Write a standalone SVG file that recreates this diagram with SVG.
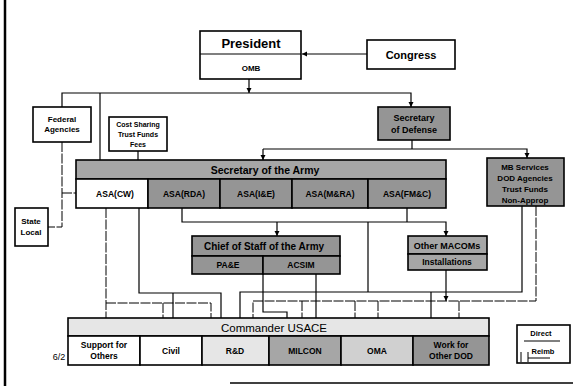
<svg xmlns="http://www.w3.org/2000/svg" width="573" height="386" viewBox="0 0 573 386">
<style>
text{font-family:"Liberation Sans",Arial,sans-serif;font-weight:bold;fill:#000;text-anchor:middle}
.box{stroke:#000;stroke-width:1.6}
.w{fill:#fff}
.g1{fill:#a6a6a6}
.g2{fill:#959595}
.g3{fill:#d0d0d0}
.g4{fill:#e6e6e6}
.c{fill:none;stroke:#000;stroke-width:1.2}
.r{fill:none;stroke:#000;stroke-width:1;stroke-dasharray:10 1.5}
</style>
<defs>
<marker id="ah" markerWidth="6" markerHeight="6" refX="5" refY="3" orient="auto" markerUnits="userSpaceOnUse">
<path d="M0,0.5 L5,3 L0,5.5 Z" fill="#000"/>
</marker>
</defs>
<rect width="573" height="386" fill="#fff"/>
<line x1="5" y1="0" x2="5" y2="386" stroke="#000" stroke-width="2.5"/>
<line x1="230" y1="383" x2="573" y2="383" stroke="#000" stroke-width="1.5"/>

<g id="connectors">
<path class="c" d="M367,54 H302" marker-end="url(#ah)"/>
<path class="c" d="M249,79 V93" marker-end="url(#ah)"/>
<path class="c" d="M62,107 V93 H411 V107" marker-end="url(#ah)"/>
<path class="c" d="M100,93 V179" marker-end="url(#ah)"/>
<path class="c" d="M138,151 V179"/>
<path class="c" d="M412,140 V149"/>
<path class="c" d="M263,149 H527 V158" marker-end="url(#ah)"/>
<path class="c" d="M263,149 V160" marker-end="url(#ah)"/>
<path class="r" d="M62,142 V227 H48"/>
<path class="r" d="M62,193 H76"/>
<path class="c" d="M182,208 V222 H446 V236" marker-end="url(#ah)"/>
<path class="c" d="M277,222 V236" marker-end="url(#ah)"/>
<path class="c" d="M407,208 V222"/>
<path class="c" d="M368,222 V292"/>
<path class="c" d="M139,208 V293 H221 V336"/>
<path class="c" d="M173,293 V336"/>
<path class="r" d="M106,208 V336"/>
<path class="r" d="M106,303 H211 V336"/>
<path class="r" d="M163,303 V336"/>
<path class="c" d="M263,256 V312 H287 V336"/>
<path class="c" d="M316,274 V336"/>
<path class="c" d="M522,206 V292 H240 V336"/>
<path class="c" d="M431,292 V336"/>
<path class="r" d="M536,206 V301 H253 V336"/>
<path class="c" d="M446,270 V301" marker-end="url(#ah)"/>
<path class="r" d="M302,301 V336"/>
<path class="r" d="M355,301 V336"/>
<path class="r" d="M378,301 V336"/>
<path class="r" d="M459,301 V336"/>
</g>

<g id="president">
<rect class="box w" x="200" y="31" width="101" height="48"/>
<line x1="200" y1="54" x2="301" y2="54" stroke="#000" stroke-width="1.2"/>
<text x="251" y="48" font-size="13">President</text>
<text x="251" y="71" font-size="8">OMB</text>
</g>
<g id="congress">
<rect class="box w" x="367" y="40" width="88" height="29"/>
<text x="411" y="59" font-size="11">Congress</text>
</g>
<g id="federal">
<rect class="box w" x="33" y="107" width="58" height="35"/>
<text x="62" y="122" font-size="8">Federal</text>
<text x="62" y="132" font-size="8">Agencies</text>
</g>
<g id="costsharing">
<rect class="box w" x="109" y="117" width="58" height="34"/>
<text x="138" y="127" font-size="7">Cost Sharing</text>
<text x="138" y="137" font-size="7">Trust Funds</text>
<text x="138" y="147" font-size="7">Fees</text>
</g>
<g id="secdef">
<rect class="box g2" x="378" y="107" width="72" height="33"/>
<text x="414" y="121" font-size="9">Secretary</text>
<text x="414" y="133" font-size="9">of Defense</text>
</g>
<g id="secarmy">
<rect class="box g1" x="76" y="160" width="370" height="19"/>
<text x="265" y="174" font-size="10.5">Secretary of the Army</text>
<rect class="box w" x="76" y="179" width="72" height="29"/>
<rect class="box g2" x="148" y="179" width="72" height="29"/>
<rect class="box g2" x="220" y="179" width="72" height="29"/>
<rect class="box g2" x="292" y="179" width="76" height="29"/>
<rect class="box g2" x="368" y="179" width="78" height="29"/>
<text x="115" y="197" font-size="8.5">ASA(CW)</text>
<text x="184" y="197" font-size="8.5">ASA(RDA)</text>
<text x="256" y="197" font-size="8.5">ASA(I&amp;E)</text>
<text x="330" y="197" font-size="8.5">ASA(M&amp;RA)</text>
<text x="407" y="197" font-size="8.5">ASA(FM&amp;C)</text>
</g>
<g id="mbservices">
<rect class="box g2" x="487" y="158" width="77" height="48"/>
<text x="525" y="170" font-size="8">MB Services</text>
<text x="525" y="181" font-size="8">DOD Agencies</text>
<text x="525" y="192" font-size="8">Trust Funds</text>
<text x="525" y="203" font-size="8">Non-Approp</text>
</g>
<g id="statelocal">
<rect class="box w" x="15" y="208" width="33" height="38"/>
<text x="31" y="224" font-size="8">State</text>
<text x="31" y="235" font-size="8">Local</text>
</g>
<g id="chiefofstaff">
<rect class="box g2" x="192" y="236" width="148" height="20"/>
<text x="264" y="250" font-size="10">Chief of Staff of the Army</text>
<rect class="box g2" x="192" y="256" width="71" height="18"/>
<rect class="box g2" x="263" y="256" width="77" height="18"/>
<text x="228" y="268" font-size="8.5">PA&amp;E</text>
<text x="301" y="268" font-size="8.5">ACSIM</text>
</g>
<g id="othermacoms">
<rect class="box g1" x="408" y="236" width="79" height="18"/>
<text x="447" y="249" font-size="9">Other MACOMs</text>
<rect class="box g1" x="408" y="254" width="79" height="16"/>
<text x="447" y="265" font-size="8.5">Installations</text>
</g>
<g id="commander">
<rect class="box g4" x="68" y="318" width="421" height="18"/>
<text x="274" y="332" font-size="11.5" style="font-weight:normal">Commander USACE</text>
<rect class="box w" x="68" y="336" width="72" height="29"/>
<rect class="box w" x="140" y="336" width="62" height="29"/>
<rect class="box g4" x="202" y="336" width="67" height="29"/>
<rect class="box g1" x="269" y="336" width="72" height="29"/>
<rect class="box g3" x="341" y="336" width="72" height="29"/>
<rect class="box g2" x="413" y="336" width="76" height="29"/>
<text x="104" y="348" font-size="8.5">Support for</text>
<text x="104" y="359" font-size="8.5">Others</text>
<text x="171" y="354" font-size="8.5">Civil</text>
<text x="235" y="354" font-size="8.5">R&amp;D</text>
<text x="305" y="354" font-size="8.5">MILCON</text>
<text x="377" y="354" font-size="8.5">OMA</text>
<text x="451" y="348" font-size="8.5">Work for</text>
<text x="451" y="359" font-size="8.5">Other DOD</text>
</g>
<g id="legend">
<rect class="box w" x="517" y="325" width="53" height="38"/>
<text x="541" y="336" font-size="7.5">Direct</text>
<line x1="524" y1="341" x2="560" y2="341" stroke="#000" stroke-width="1"/>
<text x="543" y="354" font-size="7.5">Reimb</text>
<path d="M521,352 V362 M528,352 V362 M528,358 H550" fill="none" stroke="#000" stroke-width="1"/>
</g>
<text x="59" y="360" font-size="9" style="font-weight:normal">6/2</text>
</svg>
